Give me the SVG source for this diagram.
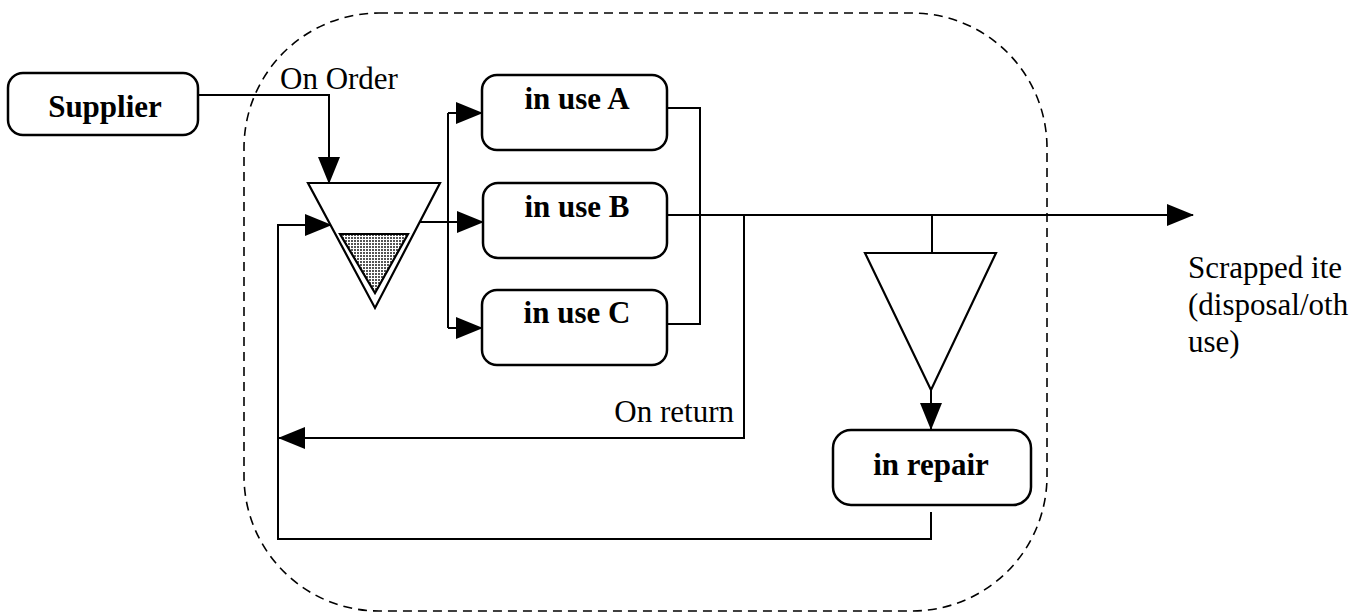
<svg xmlns="http://www.w3.org/2000/svg" width="1368" height="613" viewBox="0 0 1368 613">
  <style>
    .box { fill: #fff; stroke: #000; stroke-width: 2.5; }
    .tri { fill: #fff; stroke: #000; stroke-width: 2.2; stroke-linejoin: miter; }
    .lbl { font-family: "Liberation Serif", "Times New Roman", serif; font-size: 31px; fill: #000; }
    .bold { font-weight: bold; }
    .wire { fill: none; stroke: #000; stroke-width: 2; }
    .arr { fill: none; stroke: #000; stroke-width: 2; marker-end: url(#head); }
    .boundary { fill: none; stroke: #000; stroke-width: 1.6; stroke-dasharray: 9 6; }
  </style>
  <defs>
    <marker id="head" markerUnits="userSpaceOnUse" markerWidth="28" markerHeight="24" refX="26" refY="11" orient="auto">
      <path d="M0,0 L27,11 L0,22 z" fill="#000"/>
    </marker>
    <pattern id="stock" width="3" height="3" patternUnits="userSpaceOnUse">
      <rect width="3" height="3" fill="#fff"/>
      <rect width="2" height="2" fill="#555"/>
    </pattern>
  </defs>

  <!-- system boundary -->
  <rect id="boundary" class="boundary" x="244" y="13" width="803" height="598" rx="135" ry="135"/>

  <g id="connectors">
    <!-- supplier to stock -->
    <path class="arr" d="M198,95 H329 V183"/>
    <!-- stock out to the bus -->
    <path class="wire" d="M420,222 H448"/>
    <path class="wire" d="M448,113 V328"/>
    <path class="arr" d="M448,113 H482"/>
    <path class="arr" d="M420,222 H483"/>
    <path class="arr" d="M448,328 H482"/>
    <!-- A and C merge into B's output -->
    <path class="wire" d="M667,108 H700 V324 H667"/>
    <!-- B output to scrap -->
    <path class="arr" d="M667,215 H1193"/>
    <!-- return path -->
    <path class="arr" d="M744,215 V438 H279"/>
    <!-- to repair queue -->
    <path class="wire" d="M932,215 V253"/>
    <path class="arr" d="M931,390 V429"/>
    <!-- repair back to stock -->
    <path class="arr" d="M931,512 V539 H278 V225 H331"/>
  </g>

  <g id="supplier">
    <rect class="box" x="8" y="73" width="190" height="62" rx="15"/>
    <text class="lbl bold" x="105" y="117" text-anchor="middle">Supplier</text>
  </g>

  <g id="stock">
    <polygon class="tri" points="308,183 440,183 375,308"/>
    <polygon points="340,234 408,234 375,293" fill="url(#stock)" stroke="#000" stroke-width="2.2"/>
  </g>

  <g id="in-use-a">
    <rect class="box" x="482" y="75" width="185" height="75" rx="15"/>
    <text class="lbl bold" x="577" y="109" text-anchor="middle">in use A</text>
  </g>

  <g id="in-use-b">
    <rect class="box" x="483" y="183" width="184" height="75" rx="15"/>
    <text class="lbl bold" x="577" y="217" text-anchor="middle">in use B</text>
  </g>

  <g id="in-use-c">
    <rect class="box" x="482" y="290" width="185" height="75" rx="15"/>
    <text class="lbl bold" x="577" y="323" text-anchor="middle">in use C</text>
  </g>

  <g id="repair-queue">
    <polygon class="tri" points="865,253 996,253 931,390"/>
  </g>

  <g id="in-repair">
    <rect class="box" x="833" y="430" width="198" height="75" rx="18"/>
    <text class="lbl bold" x="931" y="475" text-anchor="middle">in repair</text>
  </g>

  <g id="labels">
    <text class="lbl" x="280" y="89">On Order</text>
    <text class="lbl" x="734" y="422" text-anchor="end">On return</text>
    <text class="lbl" x="1188" y="278">Scrapped ite</text>
    <text class="lbl" x="1188" y="315">(disposal/oth</text>
    <text class="lbl" x="1188" y="352">use)</text>
  </g>
</svg>
